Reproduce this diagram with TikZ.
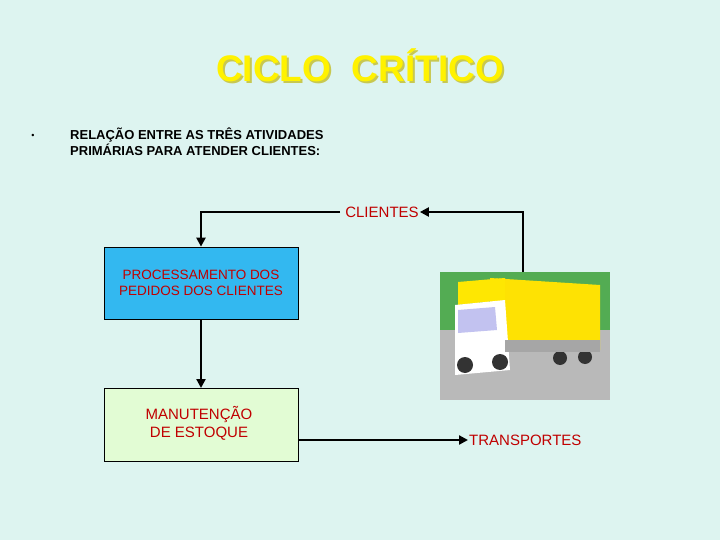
\documentclass[tikz,border=0pt]{standalone}
\usepackage{fontspec}
\setmainfont{Liberation Sans}
\usetikzlibrary{arrows.meta}
\definecolor{bg}{HTML}{DDF4F0}
\definecolor{boxblue}{HTML}{33B8F0}
\definecolor{boxgreen}{HTML}{E2FCD4}
\definecolor{txtred}{HTML}{C00000}
\definecolor{shad}{HTML}{C8C850}
\tikzset{
  flowbox/.style={draw=black, line width=0.7pt, minimum width=194pt, minimum height=72pt, align=center, text=txtred, font=\fontsize{13.5}{16.5}\selectfont, inner sep=0pt},
  conn/.style={line width=2.2pt, -{Triangle[length=9pt,width=9pt]}},
  lbl/.style={text=txtred, font=\fontsize{15}{18}\selectfont, inner sep=1pt}
}
\begin{document}
\begin{tikzpicture}[x=1pt,y=-1pt]
\fill[bg] (0,0) rectangle (720,540);
\useasboundingbox (0,0) rectangle (720,540);
% title
\node (title) at (360,66) {\fontsize{37}{40}\selectfont\bfseries\rlap{\hspace{2pt}\raisebox{-2pt}{\color{shad}CICLO\ \ CRÍTICO}}\color{yellow}CICLO\ \ CRÍTICO};
% bullet
\node (bul) at (33,136) {\fontsize{9}{10}\selectfont •};
\node[anchor=north west, align=left, font=\fontsize{13}{14}\selectfont\bfseries, inner sep=0pt] (intro) at (70,128) {RELAÇÃO ENTRE AS TRÊS ATIVIDADES\\PRIMÁRIAS PARA ATENDER CLIENTES:};
% boxes
\node[flowbox, fill=boxblue] (proc) at (201,283) {PROCESSAMENTO DOS\\PEDIDOS DOS CLIENTES};
\node[flowbox, fill=boxgreen, anchor=north, minimum height=73pt] (manu) at (201,388) {};
\node[lbl, align=center] (manut) at (199,423) {MANUTENÇÃO\\DE ESTOQUE};
\node[lbl] (cli) at (382,212) {CLIENTES};
\node[lbl, anchor=west] (trans) at (468,440) {TRANSPORTES};
% truck photo
\fill[gray!25] (440,272) rectangle (610,400);
\fill[green!35!gray] (440,272) rectangle (610,330);
\fill[gray!55] (440,330) rectangle (610,400);
\fill[yellow!85!orange] (490,278) -- (600,285) -- (600,350) -- (490,352) -- cycle;
\fill[yellow!90!orange] (458,282) -- (505,278) -- (505,300) -- (458,305) -- cycle;
\fill[white] (455,305) -- (505,300) -- (510,370) -- (455,375) -- cycle;
\fill[gray!40!blue!30] (458,310) -- (495,307) -- (497,330) -- (458,333) -- cycle;
\fill[black!80] (465,365) circle (8);
\fill[black!80] (500,362) circle (8);
\fill[black!80] (560,358) circle (7);
\fill[black!80] (585,357) circle (7);
\fill[gray!70] (505,340) rectangle (600,352);
\coordinate (photoTop) at (523,272);
\coordinate (cliIn) at (340,212);
% connectors
\draw[conn] (cliIn) -- (201,212) -- (proc.north);
\draw[conn] (proc.south) -- (manu.north);
\draw[conn] (manu.east |- trans.west) -- (trans.west);
\draw[conn] (photoTop) -- (photoTop |- cli.east) -- (cli.east);
\end{tikzpicture}
\end{document}
